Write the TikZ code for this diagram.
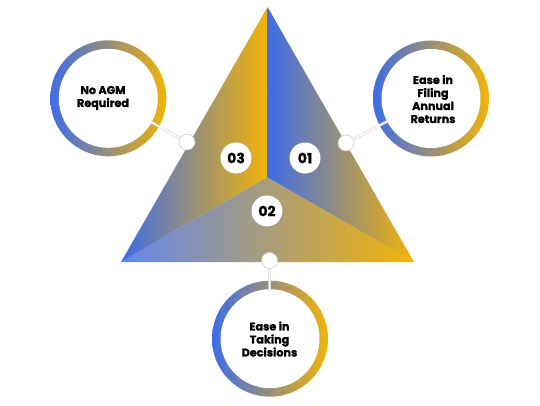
\documentclass[tikz,border=0pt]{standalone}
\usepackage{fontspec}
\setmainfont{Poppins}[BoldFeatures={FakeBold=1.3}]
\usetikzlibrary{shadows,calc}
\definecolor{cblue}{RGB}{62,108,232}
\definecolor{cyellow}{RGB}{242,180,8}
\definecolor{cedge}{RGB}{205,205,205}
\tikzset{
  face/.style={left color=cblue, right color=cyellow},
  ring/.style={left color=cblue, right color=cyellow},
  hole/.style={fill=white},
  numc/.style={circle, fill=white, minimum size=31pt, inner sep=0pt,
    font=\fontsize{14}{14}\selectfont\bfseries,
    drop shadow={opacity=0.25, shadow xshift=0.8pt, shadow yshift=-0.8pt}},
  smallc/.style={circle, fill=white, draw=cedge, line width=0.6pt, minimum size=16pt, inner sep=0pt},
  lbl/.style={align=center, font=\fontsize{11.2}{13}\selectfont\bfseries, text=black},
  conn/.style={draw=cedge, line width=0.5pt, double=white, double distance=1.6pt}
}
\begin{document}
\begin{tikzpicture}[x=1pt,y=-1pt]
\useasboundingbox (0,0) rectangle (540,405);
% triangle vertices
\coordinate (A) at (267.5,7);
\coordinate (C) at (267,177);
\coordinate (BL) at (121,262);
\coordinate (BR) at (414,262);
% faces
\shade[left color=cblue!82!white, right color=cyellow] (BL) -- (C) -- (BR) -- cycle;
\shade[face] (A) -- (C) -- (BL) -- cycle;
\shade[face] (A) -- (C) -- (BR) -- cycle;
% ring centres
\coordinate (R3) at (108.3,98.3);
\coordinate (R1) at (431,98.5);
\coordinate (R2) at (270,338.7);
% rings
\shade[ring] (R3) circle (58pt);
\fill[hole] (R3) circle (49.5pt);
\shade[ring] (R1) circle (58pt);
\fill[hole] (R1) circle (49.5pt);
\shade[ring] (R2) circle (58pt);
\fill[hole] (R2) circle (49.5pt);
% notch points on rings
\coordinate (P3) at ($(R3)!48pt!(187,142)$);
\coordinate (P1) at ($(R1)!48pt!(346,143)$);
\coordinate (P2) at ($(R2)!48pt!(269.5,260)$);
% small circles
\node[smallc] (S3) at (187,142) {};
\node[smallc] (S1) at (346,143) {};
\node[smallc] (S2) at (269.5,260.5) {};
% connectors
\draw[conn] (S3) -- (P3);
\draw[conn] (S1) -- (P1);
\draw[conn] (S2) -- (P2);
% number badges
\node[numc] (N3) at (236,158) {03};
\node[numc] (N1) at (305,158) {01};
\node[numc] (N2) at (267,211) {02};
% labels
\node[lbl] (L3) at (103,98) {No AGM\\Required};
\node[lbl] (L1) at (433,99) {Ease in\\Filing\\Annual\\Returns};
\node[lbl] (L2) at (269.5,339) {Ease in\\Taking\\Decisions};
\end{tikzpicture}
\end{document}
